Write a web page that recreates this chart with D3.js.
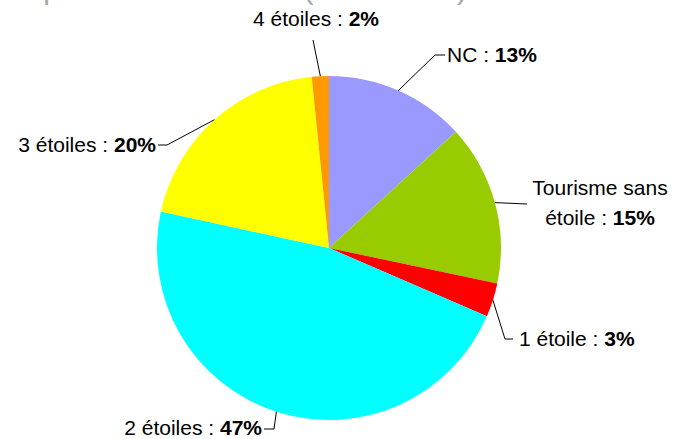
<!DOCTYPE html>
<html>
<head>
<meta charset="utf-8">
<script src="https://cdn.jsdelivr.net/npm/d3@7"></script>
<style>
  body { margin: 0; background: #fff; }
  svg { display: block; font-family: "Liberation Sans", Arial, sans-serif; }
</style>
</head>
<body>
<div id="main"></div>
<script>
// categories and their share (in %), clockwise from 12 o'clock
var categories = ["NC", "Tourisme sans étoile", "1 étoile", "2 étoiles", "3 étoiles", "4 étoiles"];
var shares = [13.2, 15.1, 3.2, 46.9, 20.0, 1.6];
var colors = ["#9999FF", "#99CC00", "#FF0000", "#00FFFF", "#FFFF00", "#FF9900"];
var titleText = "Répartition des hôtels (en nombre)";

var width = 675, height = 439;
var cx = 329, cy = 248, radius = 172;

// where each label goes: elbow point, label anchor, alignment
var labelLayout = [
  { elbow: [435, 55], tick: [445, 55], tx: 447, ty: 55, anchor: "start" },
  { elbow: null, tick: [527, 204], tx: 600, ty: 188, anchor: "middle", lines: ["Tourisme sans", "étoile : "] },
  { elbow: [505, 339], tick: [513, 339], tx: 519, ty: 339, anchor: "start" },
  { elbow: [274, 429], tick: [264, 429], tx: 262, ty: 428, anchor: "end" },
  { elbow: [167, 145], tick: [158, 145], tx: 156, ty: 145, anchor: "end" },
  { elbow: [313, 40], tick: null, tx: 316, ty: 19, anchor: "middle" }
];

var svg = d3.select("#main").append("svg")
  .attr("width", width)
  .attr("height", height);

// title, mostly cropped off at the top
svg.append("text")
  .attr("x", 5)
  .attr("y", -1)
  .style("font-size", "30px")
  .style("fill", "#a6a6a6")
  .text(titleText);

var pie = d3.pie().sort(null).value(function(d) { return d; });
var arcs = pie(shares);

var arc = d3.arc().innerRadius(0).outerRadius(radius);

var g = svg.append("g")
  .attr("transform", "translate(" + cx + "," + cy + ")");

g.selectAll("path")
  .data(arcs)
  .enter().append("path")
  .attr("d", arc)
  .style("fill", function(d, i) { return colors[i]; });

// leader lines and labels
arcs.forEach(function(d, i) {
  var lay = labelLayout[i];
  var mid = (d.startAngle + d.endAngle) / 2;
  var ex = cx + radius * Math.sin(mid);
  var ey = cy - radius * Math.cos(mid);
  var pts = [[ex, ey]];
  if (lay.elbow) pts.push(lay.elbow);
  if (lay.tick) pts.push(lay.tick);

  svg.append("path")
    .attr("d", d3.line()(pts))
    .style("fill", "none")
    .style("stroke", "#000")
    .style("stroke-width", 1);

  var pct = Math.round(d.data) + "%";
  var t = svg.append("text")
    .attr("x", lay.tx)
    .attr("y", lay.ty)
    .attr("dy", "0.35em")
    .style("text-anchor", lay.anchor)
    .style("font-size", "21px")
    .style("fill", "#000");

  if (lay.lines) {
    t.append("tspan").attr("x", lay.tx).text(lay.lines[0]);
    var t2 = t.append("tspan").attr("x", lay.tx).attr("dy", "1.4em");
    t2.append("tspan").text(lay.lines[1]);
    t2.append("tspan").style("font-weight", "bold").text(pct);
  } else {
    t.append("tspan").text(categories[i] + " : ");
    t.append("tspan").style("font-weight", "bold").text(pct);
  }
});
</script>
</body>
</html>
